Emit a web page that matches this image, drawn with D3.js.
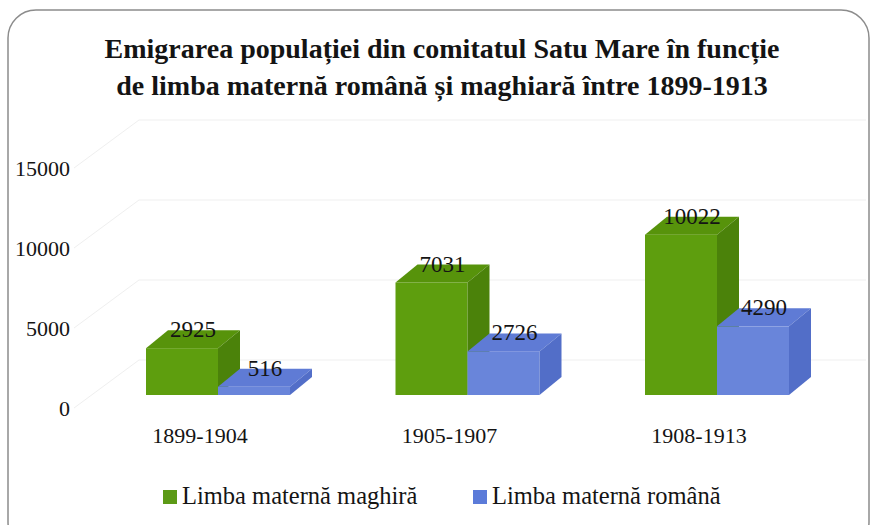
<!DOCTYPE html>
<html>
<head>
<meta charset="utf-8">
<script src="https://cdn.jsdelivr.net/npm/d3@7"></script>
<style>
    body { margin: 0; background: #fff; }
    svg text { font-family: "Liberation Serif", "Times New Roman", "DejaVu Serif", serif; fill: #141414; }
</style>
</head>
<body>
<svg id="chart" width="878" height="525"></svg>
<script>
var titleLines = ["Emigrarea populației din comitatul Satu Mare în funcție",
    "de limba maternă română și maghiară între 1899-1913"];
var categories = ["1899-1904", "1905-1907", "1908-1913"];
var seriesNames = ["Limba maternă maghiră", "Limba maternă română"];
var maghiara = [2925, 7031, 10022];
var romana = [516, 2726, 4290];
var yTicks = [0, 5000, 10000, 15000];

var faceColors = {
    "Limba maternă maghiră": {front: "#5e9e0e", top: "#57930b", side: "#4b820a", key: "#5c9a16"},
    "Limba maternă română": {front: "#6985da", top: "#5f7bd5", side: "#526ec8", key: "#5b7bd9"}
};

var svg = d3.select("#chart");
var depth = {x: 22, y: -18};

// frame
svg.append("rect")
    .attr("x", 8)
    .attr("y", 10)
    .attr("width", 861)
    .attr("height", 540)
    .attr("rx", 28)
    .attr("fill", "#fff")
    .attr("stroke", "#8c8c8c")
    .attr("stroke-width", 1.5);

// title
svg.append("g")
    .selectAll("text")
    .data(titleLines)
    .enter()
    .append("text")
    .attr("x", 442)
    .attr("y", function (d, i) { return 58 + i * 37; })
    .attr("text-anchor", "middle")
    .style("font-size", "28px")
    .style("font-weight", "bold")
    .text(function (d) { return d; });

var x0 = d3.scalePoint().domain(categories).range([218, 717]);
var x1 = d3.scaleBand().domain(seriesNames).range([-72, 72]);
var y = d3.scaleLinear().domain([0, 15000]).range([395, 155]);

// faint 3d gridlines: left wall diagonal then back wall
svg.append("g")
    .selectAll("polyline")
    .data(yTicks)
    .enter()
    .append("polyline")
    .attr("points", function (d) {
        return [[74, y(d) + 13], [139, y(d) - 35], [866, y(d) - 35]].join(" ");
    })
    .attr("fill", "none")
    .attr("stroke", "#efefef")
    .attr("stroke-width", 1);

// value axis
var yAxis = svg.append("g")
    .attr("transform", "translate(70,13)")
    .call(d3.axisLeft(y).tickValues(yTicks).tickSize(0).tickPadding(0).tickFormat(d3.format("d")));
yAxis.select(".domain").remove();
yAxis.selectAll("text")
    .style("font-size", "22px")
    .attr("fill", "#141414");

var bars = [];
categories.forEach(function (c, i) {
    bars.push({cat: c, series: seriesNames[0], value: maghiara[i]});
    bars.push({cat: c, series: seriesNames[1], value: romana[i]});
});

function geom(d) {
    var xl = x0(d.cat) + x1(d.series);
    return {xl: xl, xr: xl + x1.bandwidth(), yt: y(d.value), yb: y(0)};
}

var barG = svg.append("g")
    .selectAll("g")
    .data(bars)
    .enter()
    .append("g");

barG.append("rect")
    .attr("x", function (d) { return geom(d).xl; })
    .attr("y", function (d) { return geom(d).yt; })
    .attr("width", x1.bandwidth())
    .attr("height", function (d) { var g = geom(d); return g.yb - g.yt; })
    .attr("fill", function (d) { return faceColors[d.series].front; });

barG.append("polygon")
    .attr("points", function (d) {
        var g = geom(d);
        return [[g.xl, g.yt], [g.xl + depth.x, g.yt + depth.y], [g.xr + depth.x, g.yt + depth.y], [g.xr, g.yt]].join(" ");
    })
    .attr("fill", function (d) { return faceColors[d.series].top; });

barG.append("polygon")
    .attr("points", function (d) {
        var g = geom(d);
        return [[g.xr, g.yt], [g.xr + depth.x, g.yt + depth.y], [g.xr + depth.x, g.yb + depth.y], [g.xr, g.yb]].join(" ");
    })
    .attr("fill", function (d) { return faceColors[d.series].side; });

// value labels on top faces
svg.append("g")
    .selectAll("text")
    .data(bars)
    .enter()
    .append("text")
    .attr("x", function (d) { var g = geom(d); return (g.xl + g.xr + depth.x) / 2; })
    .attr("y", function (d) { return geom(d).yt - 11; })
    .attr("text-anchor", "middle")
    .style("font-size", "23px")
    .text(function (d) { return d.value; });

// category labels
svg.append("g")
    .selectAll("text")
    .data(categories)
    .enter()
    .append("text")
    .attr("x", function (d) { return x0(d) - 18; })
    .attr("y", 443)
    .attr("text-anchor", "middle")
    .style("font-size", "22px")
    .text(function (d) { return d; });

// legend
var legendX = [163, 473];
var legend = svg.append("g")
    .selectAll("g")
    .data(seriesNames)
    .enter()
    .append("g")
    .attr("transform", function (d, i) { return "translate(" + legendX[i] + ",490)"; });

legend.append("rect")
    .attr("width", 14)
    .attr("height", 14)
    .attr("fill", function (d) { return faceColors[d].key; });

legend.append("text")
    .attr("x", 19)
    .attr("y", 14)
    .style("font-size", "24.5px")
    .text(function (d) { return d; });
</script>
</body>
</html>
